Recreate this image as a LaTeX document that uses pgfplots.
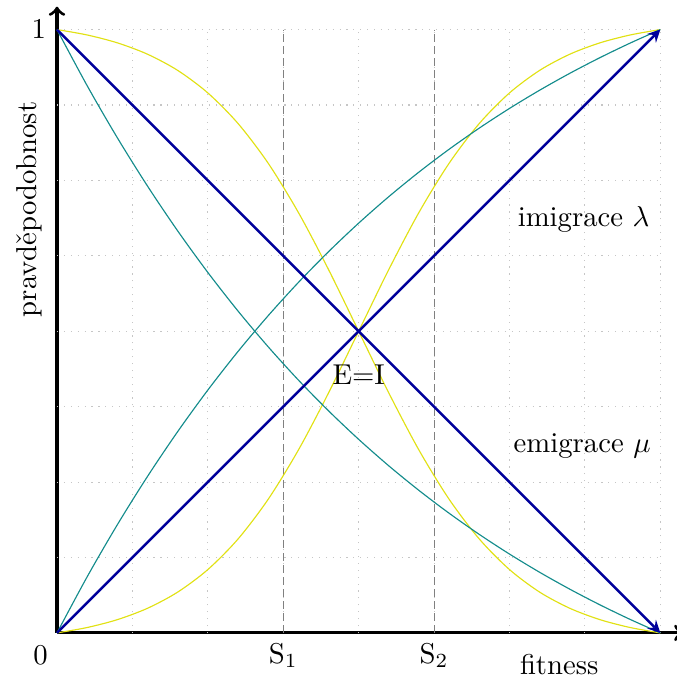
\documentclass[border=0pt]{standalone}
\usepackage{pgfplots}
\usepackage{pgfplotstable}
\pgfplotsset{compat=1.18}

\definecolor{curveteal}{RGB}{20,140,140}
\definecolor{curveyellow}{RGB}{225,225,20}
\definecolor{linearblue}{RGB}{0,0,155}

% migration models: sigmoid (yellow), exponential (teal)
\pgfplotstableread{
x     sdec     sinc     edec     einc
0     1        0        1        0
0.05  0.99107  0.00893  0.90699  0.09301
0.10  0.97803  0.02197  0.82070  0.17930
0.15  0.95919  0.04081  0.74066  0.25934
0.20  0.93239  0.06761  0.66638  0.33362
0.25  0.89501  0.10499  0.59748  0.40252
0.30  0.84441  0.15559  0.53355  0.46645
0.35  0.77854  0.22146  0.47425  0.52575
0.40  0.69705  0.30295  0.41922  0.58078
0.45  0.60237  0.39763  0.36818  0.63182
0.50  0.5      0.5      0.32083  0.67917
0.55  0.39763  0.60237  0.27688  0.72312
0.60  0.30295  0.69705  0.23613  0.76387
0.65  0.22146  0.77854  0.19831  0.80169
0.70  0.15559  0.84441  0.16323  0.83677
0.75  0.10499  0.89501  0.13068  0.86932
0.80  0.06761  0.93239  0.10048  0.89952
0.85  0.04081  0.95919  0.07247  0.92753
0.90  0.02197  0.97803  0.04648  0.95352
0.95  0.00893  0.99107  0.02237  0.97763
1     0        1        0        1
}\migration

\begin{document}
\begin{tikzpicture}
\begin{axis}[
  x=210.1pt, y=210.1pt,
  xmin=0, xmax=1.038, ymin=0, ymax=1.038,
  axis lines=left,
  axis line style={line width=1.1pt},
  every outer x axis line/.append style={-to},
  every outer y axis line/.append style={-to},
  xtick={0.375,0.625}, xticklabels={S$_1$,S$_2$},
  ytick=\empty,
  major tick length=0pt,
  clip=false,
]
% dotted grid over the unit square
\pgfplotsinvokeforeach{0.125,0.25,0.375,0.5,0.625,0.75,0.875,1}{
  \draw[gray!45, dotted] (axis cs:#1,0) -- (axis cs:#1,1);
  \draw[gray!45, dotted] (axis cs:0,#1) -- (axis cs:1,#1);
}
% thresholds S1, S2
\draw[gray, dash pattern=on 2.8pt off 1.4pt] (axis cs:0.375,0) -- (axis cs:0.375,1);
\draw[gray, dash pattern=on 2.8pt off 1.4pt] (axis cs:0.625,0) -- (axis cs:0.625,1);

\addplot[curveyellow, thin, smooth] table[x=x, y=sdec] {\migration};
\addplot[curveyellow, thin, smooth] table[x=x, y=sinc] {\migration};
\addplot[curveteal, thin, smooth] table[x=x, y=edec] {\migration};
\addplot[curveteal, thin, smooth] table[x=x, y=einc] {\migration};

\addplot[linearblue, line width=0.9pt, -stealth] coordinates {(0,1) (1,0)};
\addplot[linearblue, line width=0.9pt, -stealth] coordinates {(0,0) (1,1)};

\node[anchor=base] at (axis cs:0.5,0.411) {E=I};
\node[anchor=base east, inner sep=0pt] at (axis cs:0.983,0.673) {imigrace $\lambda$};
\node[anchor=base east, inner sep=0pt] at (axis cs:0.985,0.2985) {emigrace $\mu$};
\node[anchor=base, inner sep=0pt] at ([yshift=-14.6pt]axis cs:0.8325,0) {fitness};
\node[anchor=base, inner sep=0pt, rotate=90] at ([xshift=-7pt]axis cs:0,0.702) {pravděpodobnost};
\node[anchor=base, inner sep=0pt] at ([xshift=-5.7pt, yshift=-11.1pt]axis cs:0,0) {0};
\node[anchor=base, inner sep=0pt] at ([xshift=-6.3pt, yshift=-3.1pt]axis cs:0,1) {1};

\coordinate (O) at (axis cs:0,0);
\end{axis}
\pgfresetboundingbox
\path ([shift={(-19.85pt,-16.4pt)}]O) rectangle ([shift={(215.6pt,220.4pt)}]O);
\end{tikzpicture}
\end{document}
